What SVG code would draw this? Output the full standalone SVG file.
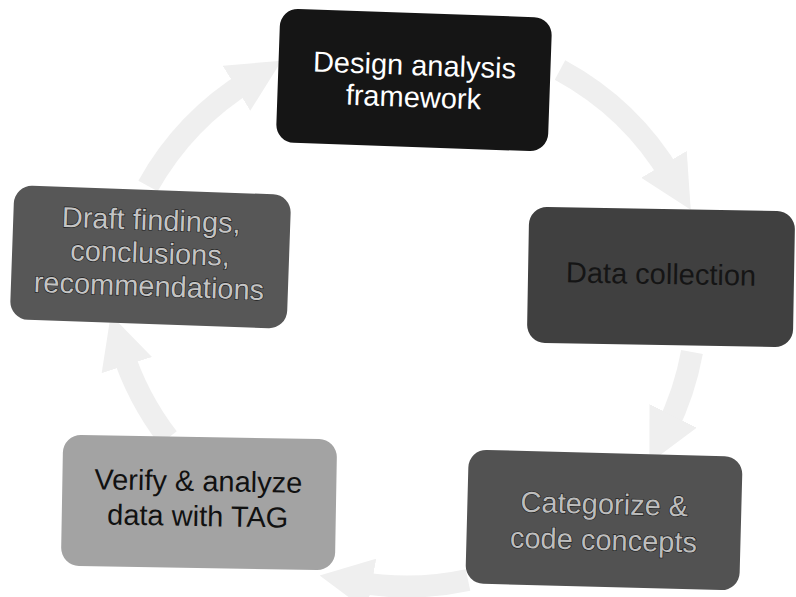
<svg xmlns="http://www.w3.org/2000/svg" width="796" height="597" viewBox="0 0 796 597">
  <style>
    .box { stroke: none; }
    .lbl { font-family: "Liberation Sans", Arial, sans-serif; font-size: 29px; text-anchor: middle; }
    .arc { fill: none; stroke: #efefef; stroke-width: 22; }
  </style>
  <defs>
    <marker id="head" viewBox="0 0 10 10" refX="3" refY="5" markerWidth="2.4" markerHeight="2.4" orient="auto" markerUnits="strokeWidth">
      <path d="M0,0 L10,5 L0,10 z" fill="#efefef"/>
    </marker>
  </defs>
  <rect width="796" height="597" fill="#ffffff"/>

  <!-- cycle connectors -->
  <g id="connectors">
    <path class="arc" d="M 560 70 A 290 290 0 0 1 672 178" marker-end="url(#head)"/>
    <path class="arc" d="M 692 352 A 290 290 0 0 1 666 430" marker-end="url(#head)"/>
    <path class="arc" d="M 468 580 A 290 290 0 0 1 356 582" marker-end="url(#head)"/>
    <path class="arc" d="M 168 438 A 290 290 0 0 1 122 350" marker-end="url(#head)"/>
    <path class="arc" d="M 148 186 A 290 290 0 0 1 250 80" marker-end="url(#head)"/>
  </g>

  <g id="node-design" transform="rotate(2 414 80)">
    <rect class="box" x="278" y="13" width="272" height="134" rx="18" fill="#151515"/>
    <text class="lbl" x="414" y="75" fill="#ffffff">Design analysis</text>
    <text class="lbl" x="414" y="107" fill="#ffffff">framework</text>
  </g>

  <g id="node-collection" transform="rotate(1 661 277)">
    <rect class="box" x="528" y="209" width="266" height="136" rx="18" fill="#404040"/>
    <text class="lbl" x="661" y="284" fill="#151515">Data collection</text>
  </g>

  <g id="node-categorize" transform="rotate(1.5 604 520)">
    <rect class="box" x="467" y="453" width="274" height="134" rx="18" fill="#525252"/>
    <text class="lbl" x="604" y="514" fill="#bdbdbd" stroke="#1c1c1c" stroke-width="1.2" paint-order="stroke">Categorize &amp;</text>
    <text class="lbl" x="604" y="550" fill="#bdbdbd" stroke="#1c1c1c" stroke-width="1.2" paint-order="stroke">code concepts</text>
  </g>

  <g id="node-verify" transform="rotate(1 199 503)">
    <rect class="box" x="62" y="437" width="274" height="131" rx="18" fill="#a3a3a3"/>
    <text class="lbl" x="198" y="491" fill="#111111">Verify &amp; analyze</text>
    <text class="lbl" x="198" y="526" fill="#111111">data with TAG</text>
  </g>

  <g id="node-draft" transform="rotate(2 150 257)">
    <rect class="box" x="12" y="190" width="277" height="134" rx="18" fill="#575757"/>
    <text class="lbl" x="150" y="230" fill="#c4c4c4" stroke="#1c1c1c" stroke-width="1.2" paint-order="stroke">Draft findings,</text>
    <text class="lbl" x="150" y="263" fill="#c4c4c4" stroke="#1c1c1c" stroke-width="1.2" paint-order="stroke">conclusions,</text>
    <text class="lbl" x="150" y="296" fill="#c4c4c4" stroke="#1c1c1c" stroke-width="1.2" paint-order="stroke">recommendations</text>
  </g>
</svg>
